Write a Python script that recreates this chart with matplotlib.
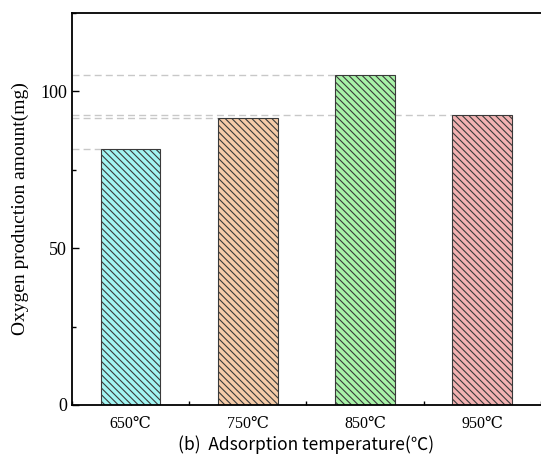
import numpy as np
import matplotlib.pyplot as plt
from matplotlib.ticker import MultipleLocator

# Dados
temperaturas = ['650℃', '750℃', '850℃', '950℃']
oxigenio = [81.5, 91.4, 105.1, 92.4]
cores = ['#a2f5f2', '#f5cba8', '#a8f2a8', '#f2b2b2']

plt.rcParams['hatch.color'] = '#2f3f3f'
plt.rcParams['hatch.linewidth'] = 0.8

fig = plt.figure(figsize=(5.41, 4.62), dpi=100)
ax = fig.add_axes([0.133, 0.1234, 0.867, 0.8485])

x = np.arange(1, len(temperaturas) + 1)
barras = ax.bar(x, oxigenio, width=0.51, color=cores, edgecolor='#3a3a3a',
                linewidth=0.8, hatch='\\' * 5, zorder=2)

# Linhas tracejadas de referência até a borda esquerda de cada barra
for xi, v in zip(x, oxigenio):
    ax.plot([0.5, xi - 0.255], [v, v], ls=(0, (5, 3)), color='#c8c8c8',
            lw=1.0, zorder=1)

ax.set_xlim(0.5, 4.5)
ax.set_ylim(0, 125)
ax.set_xticks(x)
ax.set_xticklabels(temperaturas, family=['Liberation Serif', 'DejaVu Serif'],
                   fontsize=11.5)
ax.xaxis.set_minor_locator(MultipleLocator(0.5))
ax.yaxis.set_major_locator(MultipleLocator(50))
ax.yaxis.set_minor_locator(MultipleLocator(25))
for lab in ax.get_yticklabels():
    lab.set_family('Liberation Serif')
    lab.set_fontsize(13)
ax.tick_params(which='major', direction='in', length=5, width=1)
ax.tick_params(which='minor', direction='in', length=3, width=1)
ax.tick_params(axis='x', pad=8)
ax.spines['right'].set_visible(False)
for s in ['left', 'bottom', 'top']:
    ax.spines[s].set_linewidth(1.3)

ax.set_ylabel('Oxygen production amount(mg)', family='Liberation Serif',
              fontsize=14, labelpad=8)
ax.set_xlabel('(b)  Adsorption temperature(℃)',
              family=['Noto Sans CJK SC', 'DejaVu Sans'], fontsize=12.5,
              labelpad=2)

fig.savefig('out.png', dpi=100)
